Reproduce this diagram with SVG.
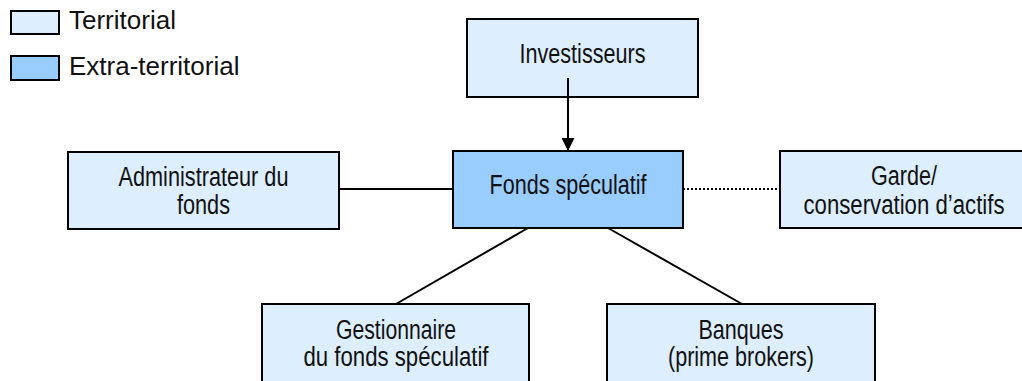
<svg xmlns="http://www.w3.org/2000/svg" width="1022" height="381" viewBox="0 0 1022 381">
<style>
.t{fill:#ddeeff;stroke:#000;stroke-width:2}
.x{fill:#99ccff;stroke:#000;stroke-width:2}
.lbl{font-family:"Liberation Sans Narrow","Liberation Sans",Arial,sans-serif;font-size:27px;fill:#111;text-anchor:middle}
.leg{font-family:"Liberation Sans",Arial,sans-serif;font-size:26px;fill:#111}
.ln{stroke:#000;stroke-width:2;fill:none}
.dot{stroke:#000;stroke-width:2;stroke-dasharray:2 2;fill:none}
</style>
<defs>
<marker id="ah" viewBox="0 0 10 10" refX="10" refY="5" markerWidth="7.5" markerHeight="6.5" markerUnits="strokeWidth" orient="auto">
<path d="M0,0 L10,5 L0,10 z" fill="#000"/>
</marker>
</defs>
<g id="legend">
<rect class="t" x="11" y="11" width="48" height="23"/>
<text class="leg" x="69" y="29">Territorial</text>
<rect class="x" x="11" y="56" width="48" height="24"/>
<text class="leg" x="69" y="75">Extra-territorial</text>
</g>
<g id="investisseurs">
<rect class="t" x="467" y="19" width="231" height="78"/>
<text class="lbl" x="582.5" y="63" textLength="126" lengthAdjust="spacingAndGlyphs">Investisseurs</text>
</g>
<g id="fonds">
<rect class="x" x="453" y="151" width="230" height="77"/>
<text class="lbl" x="568" y="194" textLength="157" lengthAdjust="spacingAndGlyphs">Fonds spéculatif</text>
</g>
<g id="administrateur">
<rect class="t" x="68" y="152" width="271" height="77"/>
<text class="lbl" x="203.5" y="186" textLength="170" lengthAdjust="spacingAndGlyphs">Administrateur du</text>
<text class="lbl" x="203.5" y="214" textLength="53" lengthAdjust="spacingAndGlyphs">fonds</text>
</g>
<g id="garde">
<rect class="t" x="780" y="151" width="252" height="77"/>
<text class="lbl" x="904" y="185" textLength="66" lengthAdjust="spacingAndGlyphs">Garde/</text>
<text class="lbl" x="904" y="214" textLength="201" lengthAdjust="spacingAndGlyphs">conservation d’actifs</text>
</g>
<g id="gestionnaire">
<rect class="t" x="262" y="304" width="267" height="90"/>
<text class="lbl" x="396" y="339" textLength="120" lengthAdjust="spacingAndGlyphs">Gestionnaire</text>
<text class="lbl" x="396" y="366" textLength="185" lengthAdjust="spacingAndGlyphs">du fonds spéculatif</text>
</g>
<g id="banques">
<rect class="t" x="607" y="304" width="268" height="90"/>
<text class="lbl" x="741" y="339" textLength="85" lengthAdjust="spacingAndGlyphs">Banques</text>
<text class="lbl" x="741" y="366" textLength="146" lengthAdjust="spacingAndGlyphs">(prime brokers)</text>
</g>
<g id="connectors">
<line class="ln" x1="568" y1="78" x2="568" y2="151" marker-end="url(#ah)"/>
<line class="ln" x1="339" y1="189" x2="453" y2="189"/>
<line class="dot" x1="683" y1="189" x2="780" y2="189"/>
<line class="ln" x1="528" y1="228" x2="396" y2="304"/>
<line class="ln" x1="608" y1="228" x2="742" y2="304"/>
</g>
</svg>
